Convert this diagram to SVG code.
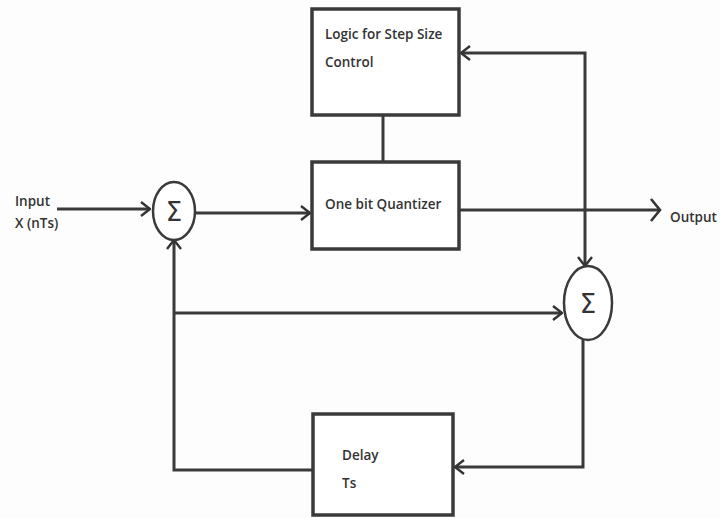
<svg xmlns="http://www.w3.org/2000/svg" width="720" height="518" viewBox="0 0 720 518">
<defs>
<marker id="ch" viewBox="0 0 12 16" refX="11" refY="8" markerWidth="12" markerHeight="16" markerUnits="userSpaceOnUse" orient="auto">
<path d="M2,1 L11,8 L2,15" fill="none" stroke="#333" stroke-width="2.4"/>
</marker>
<marker id="chb" viewBox="0 0 14 24" refX="12" refY="12" markerWidth="14" markerHeight="24" markerUnits="userSpaceOnUse" orient="auto">
<path d="M3,1 L12,12 L3,23" fill="none" stroke="#333" stroke-width="2.6"/>
</marker>
</defs>
<style>
.box{fill:#fff;stroke:#3a3a3a;stroke-width:3.5}
.sum{fill:#fff;stroke:#3a3a3a;stroke-width:2.5}
.ln{fill:none;stroke:#3a3a3a;stroke-width:3}
.t{font-family:"Open Sans","Liberation Sans",sans-serif;font-size:13.5px;font-weight:600;fill:#333}
.s{font-family:"DejaVu Sans",sans-serif;font-size:26px;fill:#333}
</style>
<rect width="720" height="518" fill="#fdfdfd"/>
<g id="connectors">
<path class="ln" d="M57,209 H150" marker-end="url(#ch)"/>
<path class="ln" d="M195,213 H310" marker-end="url(#ch)"/>
<path class="ln" d="M383,115 V162"/>
<path class="ln" d="M459,210 H660" marker-end="url(#chb)"/>
<path class="ln" d="M585,210 V53 H461" marker-end="url(#ch)"/>
<path class="ln" d="M585,210 V266" marker-end="url(#ch)"/>
<path class="ln" d="M174,313 H562" marker-end="url(#ch)"/>
<path class="ln" d="M313,470 H174 V240" marker-end="url(#ch)"/>
<path class="ln" d="M583,340 V467 H455" marker-end="url(#ch)"/>
</g>
<g id="logic">
<rect class="box" x="312" y="9" width="147" height="106"/>
<text class="t" x="325" y="39">Logic for Step Size</text>
<text class="t" x="325" y="67">Control</text>
</g>
<g id="quantizer">
<rect class="box" x="312" y="162" width="147" height="87"/>
<text class="t" x="325" y="209">One bit Quantizer</text>
</g>
<g id="delay">
<rect class="box" x="313" y="414" width="140" height="101"/>
<text class="t" x="342" y="460">Delay</text>
<text class="t" x="342" y="488">Ts</text>
</g>
<g id="sum1">
<ellipse class="sum" cx="174" cy="211" rx="21" ry="29"/>
<text class="s" x="174" y="221" text-anchor="middle">Σ</text>
</g>
<g id="sum2">
<ellipse class="sum" cx="588" cy="303" rx="24" ry="37"/>
<text class="s" x="588" y="313" text-anchor="middle">Σ</text>
</g>
<g id="labels">
<text class="t" x="15" y="206">Input</text>
<text class="t" x="15" y="228">X (nTs)</text>
<text class="t" x="670" y="222">Output</text>
</g>
</svg>
